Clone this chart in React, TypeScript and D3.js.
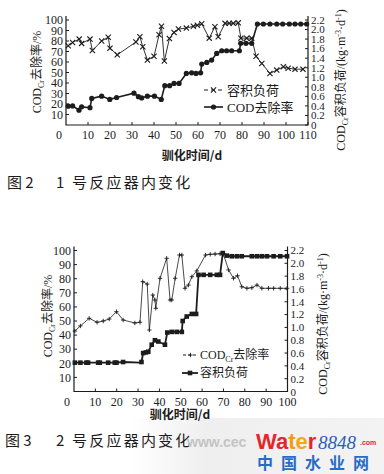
import * as d3 from "d3";

const SERIF = '"Liberation Serif", "Noto Sans CJK SC", serif';
const CJK = '"Noto Sans CJK SC", sans-serif';
const INK = "#1c1c1c";

// 图2 1号反应器: 容积负荷 (×, right axis) and COD去除率 (●, left axis)
const r1LoadDays = [1.0, 3.0, 6.0, 7.1, 10.9, 12.0, 16.2, 19.2, 20.0, 23.3, 31.8, 33.6, 34.9, 37.0, 40.0, 42.3, 43.4, 44.7, 47.0, 49.1, 51.1, 54.7, 57.9, 59.7, 61.7, 65.1, 67.7, 69.2, 72.3, 74.2, 76.0, 78.3, 79.5, 82.1, 84.4, 86.4, 89.0, 92.7, 95.8, 98.8, 101.0, 104.1, 107.7];
const r1Load = [1.66, 1.73, 1.8, 1.71, 1.8, 1.56, 1.76, 1.84, 1.61, 1.47, 1.74, 1.85, 1.64, 1.36, 1.44, 1.89, 2.07, 1.34, 1.81, 1.94, 2.01, 2.03, 2.07, 2.09, 2.12, 1.82, 2.06, 1.85, 2.13, 2.13, 2.13, 2.14, 1.82, 1.82, 1.82, 1.44, 1.29, 1.08, 1.15, 1.22, 1.19, 1.17, 1.17];
const r1RateDays = [1.0, 3.0, 5.9, 7.1, 10.9, 11.7, 16.2, 19.9, 23.0, 30.9, 32.9, 34.4, 37.0, 40.2, 43.3, 44.9, 47.1, 49.1, 51.4, 54.7, 57.1, 59.1, 61.2, 61.7, 64.0, 66.2, 68.5, 70.8, 73.0, 75.3, 78.8, 79.4, 81.8, 84.4, 87.0, 89.7, 92.7, 95.8, 98.5, 101.5, 104.1, 106.7, 109.4];
const r1Rate = [17.9, 18.2, 14.1, 17.3, 16.5, 25.3, 27.5, 24.4, 26.2, 30.3, 27.0, 25.8, 27.5, 27.5, 24.4, 37.5, 37.5, 39.6, 39.6, 49.1, 49.7, 49.1, 49.7, 58.0, 59.6, 61.8, 68.2, 70.7, 70.7, 70.7, 70.7, 77.8, 77.8, 77.8, 96.2, 96.2, 96.2, 96.2, 96.2, 96.2, 96.2, 96.2, 96.2];

// 图3 2号反应器: COD去除率 (+, left axis) and 容积负荷 (■, right axis)
const r2RateDays = [0.4, 3.0, 7.1, 10.8, 13.7, 16.5, 19.9, 23.0, 28.5, 30.9, 32.2, 34.3, 35.3, 36.9, 37.9, 38.3, 40.3, 43.4, 45.0, 45.8, 47.4, 49.4, 50.5, 52.0, 53.6, 55.2, 57.5, 61.6, 63.8, 66.1, 68.4, 70.0, 72.4, 74.7, 76.6, 78.6, 81.0, 83.3, 85.7, 88.0, 91.1, 93.5, 96.6, 99.8];
const r2Rate = [42.9, 46.5, 51.9, 49.1, 50.0, 51.4, 56.6, 50.7, 48.6, 49.1, 77.9, 76.2, 43.6, 68.4, 64.9, 59.0, 80.3, 94.5, 64.9, 64.9, 80.3, 96.8, 96.8, 73.2, 75.5, 81.4, 85.5, 96.8, 97.3, 97.5, 97.7, 97.3, 86.2, 80.3, 82.1, 74.3, 73.2, 73.6, 75.5, 73.2, 73.2, 73.2, 73.2, 73.2];
const r2LoadDays = [0.4, 3.0, 5.8, 6.6, 11.3, 12.1, 16.0, 19.1, 19.9, 23.0, 30.9, 31.6, 32.4, 33.7, 34.8, 36.4, 37.9, 39.5, 42.6, 43.7, 45.8, 48.1, 50.5, 50.9, 52.8, 55.2, 57.2, 58.3, 60.7, 63.8, 66.9, 68.4, 69.7, 71.6, 73.9, 76.3, 78.6, 83.3, 85.7, 88.0, 90.4, 93.5, 96.6, 99.8];
const r2Load = [0.45, 0.45, 0.45, 0.45, 0.45, 0.45, 0.45, 0.45, 0.45, 0.46, 0.45, 0.46, 0.6, 0.61, 0.62, 0.73, 0.8, 0.78, 0.73, 0.92, 0.93, 0.93, 0.93, 1.1, 1.17, 1.21, 1.21, 1.82, 1.82, 1.82, 1.82, 1.82, 2.16, 2.12, 2.11, 2.11, 2.11, 2.11, 2.11, 2.11, 2.11, 2.11, 2.11, 2.11];
// squares are only drawn where the scan shows them
const r2NoMarker = [10];

const leftTicks = [10, 20, 30, 40, 50, 60, 70, 80, 90, 100];
const rightTicks = [0, 0.2, 0.4, 0.6, 0.8, 1.0, 1.2, 1.4, 1.6, 1.8, 2.0, 2.2];
const xTicks1 = [10, 20, 30, 40, 50, 60, 70, 80, 90, 100, 110];
const xTicks2 = [10, 20, 30, 40, 50, 60, 70, 80, 90, 100];

type Box = { left: number; right: number; top: number; bottom: number };

const zip = (xs: number[], ys: number[]) => xs.map((x, i) => [x, ys[i]] as [number, number]);

function Frame({ box, x, yL, yR, xTicks, leftTitle, rightTitle, xTitle }: any) {
  return (
    <g fontFamily={SERIF} fill={INK}>
      <path d={`M${box.left},${box.top - 4}V${box.bottom}H${box.right}V${box.top - 4}`} fill="none" stroke={INK} strokeWidth={1.2} />
      {leftTicks.map((t) => (
        <g key={"l" + t}>
          <line x1={box.left} x2={box.left + 3} y1={yL(t)} y2={yL(t)} stroke={INK} />
          <text x={box.left - 3} y={yL(t)} dy="0.35em" textAnchor="end" fontSize={12}>{t}</text>
        </g>
      ))}
      {rightTicks.map((t) => (
        <g key={"r" + t}>
          <line x1={box.right - 3} x2={box.right} y1={yR(t)} y2={yR(t)} stroke={INK} />
          <text x={box.right + 3} y={yR(t) + (t === 0 ? 0.5 : 0)} dy="0.35em" fontSize={11}>{t === 0 ? "0" : t.toFixed(1)}</text>
        </g>
      ))}
      {xTicks.map((t: number) => (
        <g key={"x" + t}>
          <line x1={x(t)} x2={x(t)} y1={box.bottom} y2={box.bottom - 3} stroke={INK} />
          <text x={x(t)} y={box.bottom + 14} textAnchor="middle" fontSize={12}>{t}</text>
        </g>
      ))}
      <text x={x(0) - 7} y={box.bottom + 14} textAnchor="middle" fontSize={12}>0</text>
      <text transform={`translate(${leftTitle[0]},${leftTitle[1]}) rotate(-90)`} textAnchor="middle" dy="0.35em" fontSize={12}>
        COD<tspan fontSize={8} dy={3}>Cr</tspan><tspan dy={-3} fontFamily={CJK}>去除率</tspan>/%
      </text>
      <text transform={`translate(${rightTitle[0]},${rightTitle[1]}) rotate(-90)`} textAnchor="middle" dy="0.35em" fontSize={12}>
        COD<tspan fontSize={8} dy={3}>Cr</tspan><tspan dy={-3} fontFamily={CJK}>容积负荷</tspan>/(kg·m<tspan fontSize={8} dy={-4}>-3</tspan><tspan dy={4}>·d</tspan><tspan fontSize={8} dy={-4}>-1</tspan><tspan dy={4}>)</tspan>
      </text>
      <text x={xTitle[0]} y={xTitle[1]} textAnchor="middle" fontSize={12} fontFamily={CJK} fontWeight={700}>驯化时间/d</text>
    </g>
  );
}

const crossPath = (cx: number, cy: number, s = 2.6) =>
  `M${cx - s},${cy - s}L${cx + s},${cy + s}M${cx - s},${cy + s}L${cx + s},${cy - s}`;
const plusPath = (cx: number, cy: number, s = 2.2) => `M${cx - s},${cy}H${cx + s}M${cx},${cy - s}V${cy + s}`;

export default function App() {
  // 图2
  const b1: Box = { left: 66, right: 308, top: 20, bottom: 125 };
  const x1 = d3.scaleLinear().domain([0, 110]).range([b1.left, b1.right]);
  const yL1 = d3.scaleLinear().domain([0, 100]).range([b1.bottom, b1.top]);
  const yR1 = d3.scaleLinear().domain([0, 2.2]).range([b1.bottom, b1.top]);
  const load1 = zip(r1LoadDays, r1Load);
  const rate1 = zip(r1RateDays, r1Rate);
  const lineL1 = d3.line<[number, number]>().x((d) => x1(d[0])).y((d) => yR1(d[1]));
  const lineR1 = d3.line<[number, number]>().x((d) => x1(d[0])).y((d) => yL1(d[1]));

  // 图3
  const b2: Box = { left: 74, right: 287.5, top: 250.5, bottom: 391.5 };
  const x2 = d3.scaleLinear().domain([0, 100]).range([b2.left, b2.right]);
  const yL2 = d3.scaleLinear().domain([0, 100]).range([b2.bottom, b2.top]);
  const yR2 = d3.scaleLinear().domain([0, 2.2]).range([b2.bottom, b2.top]);
  const rate2 = zip(r2RateDays, r2Rate);
  const load2 = zip(r2LoadDays, r2Load);
  const lineR2 = d3.line<[number, number]>().x((d) => x2(d[0])).y((d) => yL2(d[1]));
  const lineL2 = d3.line<[number, number]>().x((d) => x2(d[0])).y((d) => yR2(d[1]));

  return (
    <svg width={384} height={474} style={{ position: "absolute", left: 0, top: 0, background: "#fff" }}>
      <defs>
        <linearGradient id="fade" x1="0" x2="1" y1="0" y2="0">
          <stop offset="0" stopColor="#f1f1f1" stopOpacity={0} />
          <stop offset="0.3" stopColor="#efefef" stopOpacity={1} />
          <stop offset="1" stopColor="#f3f3f3" stopOpacity={1} />
        </linearGradient>
      </defs>
      <rect x={130} y={418} width={254} height={56} fill="url(#fade)" />

      <Frame box={b1} x={x1} yL={yL1} yR={yR1} xTicks={xTicks1} leftTitle={[37, 72]} rightTitle={[341, 80]} xTitle={[192, 160]} />
      <path d={lineL1(load1) ?? ""} fill="none" stroke={INK} strokeWidth={0.9} />
      {load1.map((d, i) => (
        <path key={"c" + i} d={crossPath(x1(d[0]), yR1(d[1]))} stroke={INK} strokeWidth={1.1} />
      ))}
      <path d={lineR1(rate1) ?? ""} fill="none" stroke={INK} strokeWidth={1.6} />
      {rate1.map((d, i) => (
        <circle key={"o" + i} cx={x1(d[0])} cy={yL1(d[1])} r={2.6} fill={INK} />
      ))}
      <g fill={INK}>
        <line x1={204} x2={223} y1={90} y2={90} stroke={INK} strokeDasharray="4,3" />
        <path d={crossPath(213.5, 90)} stroke={INK} strokeWidth={1.1} />
        <text x={227} y={90} dy="0.35em" fontSize={13} fontFamily={CJK}>容积负荷</text>
        <line x1={204} x2={223} y1={107} y2={107} stroke={INK} strokeWidth={1.6} />
        <circle cx={213.5} cy={107} r={2.6} />
        <text x={227} y={107} dy="0.35em" fontSize={13} fontFamily={SERIF}>COD<tspan fontFamily={CJK}>去除率</tspan></text>
      </g>
      <text x={7} y={188} fontSize={15} fontFamily={CJK} fill={INK}>图 2</text>
      <text x={56} y={188} fontSize={15} fontFamily={CJK} fill={INK} letterSpacing={2.2}>1 号反应器内变化</text>

      <Frame box={b2} x={x2} yL={yL2} yR={yR2} xTicks={xTicks2} leftTitle={[48, 316]} rightTitle={[323, 324]} xTitle={[180, 419]} />
      <path d={lineR2(rate2) ?? ""} fill="none" stroke={INK} strokeWidth={0.8} />
      {rate2.map((d, i) => (
        <path key={"p" + i} d={plusPath(x2(d[0]), yL2(d[1]))} stroke={INK} strokeWidth={0.9} />
      ))}
      <path d={lineL2(load2) ?? ""} fill="none" stroke={INK} strokeWidth={1.8} />
      {load2.map((d, i) =>
        r2NoMarker.includes(i) ? null : (
          <rect key={"s" + i} x={x2(d[0]) - 2.3} y={yR2(d[1]) - 2.3} width={4.6} height={4.6} fill={INK} />
        )
      )}
      <g fill={INK}>
        <line x1={183} x2={198} y1={355} y2={355} stroke={INK} strokeDasharray="3,2" />
        <path d={plusPath(190.5, 355)} stroke={INK} strokeWidth={0.9} />
        <text x={200} y={355} dy="0.35em" fontSize={12} fontFamily={SERIF}>
          COD<tspan fontSize={8} dy={3}>Cr</tspan><tspan dy={-3} fontFamily={CJK}>去除率</tspan>
        </text>
        <line x1={182} x2={198} y1={373} y2={373} stroke={INK} strokeWidth={1.8} />
        <rect x={187.7} y={370.7} width={4.6} height={4.6} />
        <text x={200} y={373} dy="0.35em" fontSize={12} fontFamily={CJK}>容积负荷</text>
      </g>
      <text x={5} y={446} fontSize={15} fontFamily={CJK} fill={INK}>图 3</text>
      <text x={56} y={446} fontSize={15} fontFamily={CJK} fill={INK} letterSpacing={2.2}>2 号反应器内变化</text>

      <text x={187} y={447} fontSize={14} fontWeight={700} fontFamily="Liberation Sans, sans-serif" fill="#c4c4c4">www.cec</text>
      <text x={256} y={449} fontSize={22} fontWeight={700} fontFamily="Liberation Sans, sans-serif">
        <tspan fill="#e3262b">Wa</tspan><tspan fill="#f39a12">t</tspan><tspan fill="#f0a81c">e</tspan><tspan fill="#e3262b">r</tspan>
      </text>
      <text x={318} y={449} fontSize={19} fontStyle="italic" fontFamily="Liberation Serif, serif" fill="#2d5fb3">8848</text>
      <text x={360} y={445} fontSize={7} fontWeight={700} fontFamily="Liberation Sans, sans-serif" fill="#e3262b">.com</text>
      <text x={257} y={469} fontSize={16} fontWeight={700} fontFamily={CJK} fill="#2a6cc4" letterSpacing={8}>中国水业网</text>
    </svg>
  );
}
